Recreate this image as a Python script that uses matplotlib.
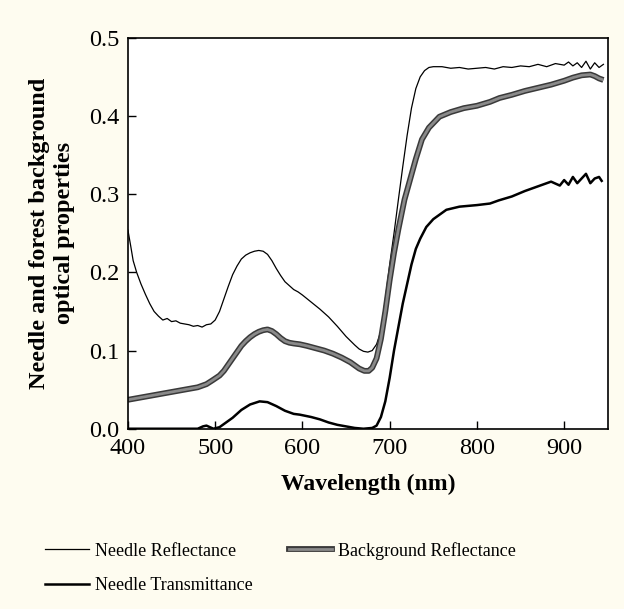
#import libraries
import matplotlib.pyplot as plt
from matplotlib.lines import Line2D
from matplotlib.legend_handler import HandlerTuple

plt.rcParams['font.family'] = ['Liberation Serif', 'DejaVu Serif']

#Data Definition
wl_refl = [400, 403, 406, 410, 415, 420, 425, 430, 435, 440, 445, 450, 455, 460, 465, 470,
           475, 480, 485, 490, 495, 500, 505, 510, 515, 520, 525, 530, 535, 540, 545, 550,
           555, 560, 565, 570, 575, 580, 585, 590, 595, 600, 610, 620, 630, 640, 650, 660,
           665, 670, 675, 680, 685, 690, 695, 700, 705, 710, 715, 720, 725, 730, 735, 740,
           745, 750, 760, 770, 780, 790, 800, 810, 820, 830, 840, 850, 860, 870, 880, 890,
           900, 905, 910, 915, 920, 925, 930, 935, 940, 945]
needle_refl = [0.254, 0.235, 0.215, 0.200, 0.185, 0.172, 0.160, 0.150, 0.144, 0.139, 0.141, 0.137,
               0.138, 0.135, 0.134, 0.133, 0.131, 0.132, 0.130, 0.133, 0.134, 0.139, 0.150, 0.166,
               0.182, 0.197, 0.208, 0.217, 0.222, 0.225, 0.227, 0.228, 0.227, 0.223, 0.215, 0.205,
               0.196, 0.188, 0.183, 0.178, 0.175, 0.171, 0.162, 0.153, 0.143, 0.131, 0.118, 0.107,
               0.102, 0.099, 0.098, 0.100, 0.108, 0.125, 0.165, 0.210, 0.250, 0.293, 0.335, 0.375,
               0.410, 0.435, 0.450, 0.458, 0.462, 0.463, 0.463, 0.461, 0.462, 0.460, 0.461, 0.462,
               0.460, 0.463, 0.462, 0.464, 0.463, 0.466, 0.463, 0.467, 0.465, 0.469, 0.464, 0.468,
               0.462, 0.470, 0.460, 0.468, 0.462, 0.466]

wl_bg = [400, 410, 420, 430, 440, 450, 460, 470, 480, 490, 497, 505, 510, 515, 520, 525,
         530, 535, 540, 545, 550, 555, 560, 565, 570, 575, 580, 585, 590, 597, 605, 615,
         625, 635, 645, 655, 660, 665, 671, 676, 680, 685, 690, 695, 700, 705, 710, 717,
         725, 730, 737, 745, 757, 770, 785, 800, 815, 826, 840, 855, 870, 885, 900, 910,
         920, 930, 935, 940, 945]
bg_refl = [0.037, 0.039, 0.041, 0.043, 0.045, 0.047, 0.049, 0.051, 0.053, 0.057, 0.062, 0.068,
           0.074, 0.082, 0.090, 0.098, 0.106, 0.112, 0.117, 0.121, 0.124, 0.126, 0.127, 0.125,
           0.121, 0.116, 0.112, 0.110, 0.109, 0.108, 0.106, 0.103, 0.100, 0.096, 0.091, 0.085,
           0.081, 0.077, 0.074, 0.074, 0.078, 0.090, 0.115, 0.150, 0.190, 0.225, 0.255, 0.293,
           0.325, 0.345, 0.370, 0.385, 0.399, 0.405, 0.410, 0.413, 0.418, 0.423, 0.427, 0.432,
           0.436, 0.440, 0.445, 0.449, 0.452, 0.453, 0.451, 0.448, 0.446]

wl_trans = [400, 480, 486, 490, 494, 498, 505, 510, 520, 530, 540, 551, 560, 570, 580, 590,
            597, 610, 620, 630, 640, 650, 660, 670, 680, 685, 690, 695, 700, 705, 710, 715,
            720, 725, 730, 735, 742, 750, 765, 780, 800, 815, 825, 840, 855, 870, 885, 895,
            900, 905, 910, 915, 920, 925, 930, 935, 940, 943]
needle_trans = [0.000, 0.000, 0.003, 0.004, 0.002, 0.000, 0.002, 0.006, 0.014, 0.024, 0.031, 0.035,
                0.034, 0.029, 0.023, 0.019, 0.018, 0.015, 0.012, 0.008, 0.005, 0.003, 0.001, 0.000,
                0.001, 0.004, 0.015, 0.035, 0.065, 0.100, 0.130, 0.160, 0.185, 0.210, 0.230, 0.243,
                0.258, 0.268, 0.280, 0.284, 0.286, 0.288, 0.292, 0.297, 0.304, 0.310, 0.316, 0.311,
                0.318, 0.312, 0.322, 0.314, 0.320, 0.326, 0.314, 0.320, 0.322, 0.317]

#Create Figure
fig = plt.figure(figsize=(6.24, 6.09), dpi=100, facecolor='#fefcf0')
ax = fig.add_axes([0.205, 0.296, 0.769, 0.642])
ax.set_facecolor('white')

#Create Plot
ax.plot(wl_refl, needle_refl, color='black', lw=0.9)
ax.plot(wl_bg, bg_refl, color='#3a3a3a', lw=4.2, solid_capstyle='butt')
ax.plot(wl_bg, bg_refl, color='#8a8a8a', lw=2.0, solid_capstyle='butt')
ax.plot(wl_trans, needle_trans, color='black', lw=1.8)

#Modify figure's appearance
ax.set_xlim(400, 950)
ax.set_ylim(0, 0.5)
ax.set_xticks([400, 500, 600, 700, 800, 900])
ax.set_yticks([0.0, 0.1, 0.2, 0.3, 0.4, 0.5])
ax.set_yticklabels(['0.0', '0.1', '0.2', '0.3', '0.4', '0.5'])
ax.tick_params(direction='in', length=6, width=1, labelsize=17.5)
ax.tick_params(axis='y', pad=6)
ax.tick_params(axis='x', pad=7)
for s in ax.spines.values():
    s.set_linewidth(1.2)
ax.set_xlabel('Wavelength (nm)', fontsize=17, fontweight='bold', labelpad=10)
ax.set_ylabel('Needle and forest background\noptical properties', fontsize=17.5,
              fontweight='bold', labelpad=10, linespacing=1.25)

h_nr = Line2D([], [], color='black', lw=0.9)
h_nt = Line2D([], [], color='black', lw=1.8)
h_bg = (Line2D([], [], color='#3a3a3a', lw=4.2), Line2D([], [], color='#8a8a8a', lw=2.0))
fig.legend([h_nr, h_nt, h_bg],
           ['Needle Reflectance', 'Needle Transmittance', 'Background Reflectance'],
           handler_map={tuple: HandlerTuple(ndivide=1)},
           loc='upper left', bbox_to_anchor=(0.061, 0.122), ncol=2, frameon=False,
           fontsize=13, handlelength=2.4, handletextpad=0.35, columnspacing=2.0,
           labelspacing=0.95, borderaxespad=0)

#Show/Save Plot
plt.savefig('out.png', dpi=100, facecolor=fig.get_facecolor())
